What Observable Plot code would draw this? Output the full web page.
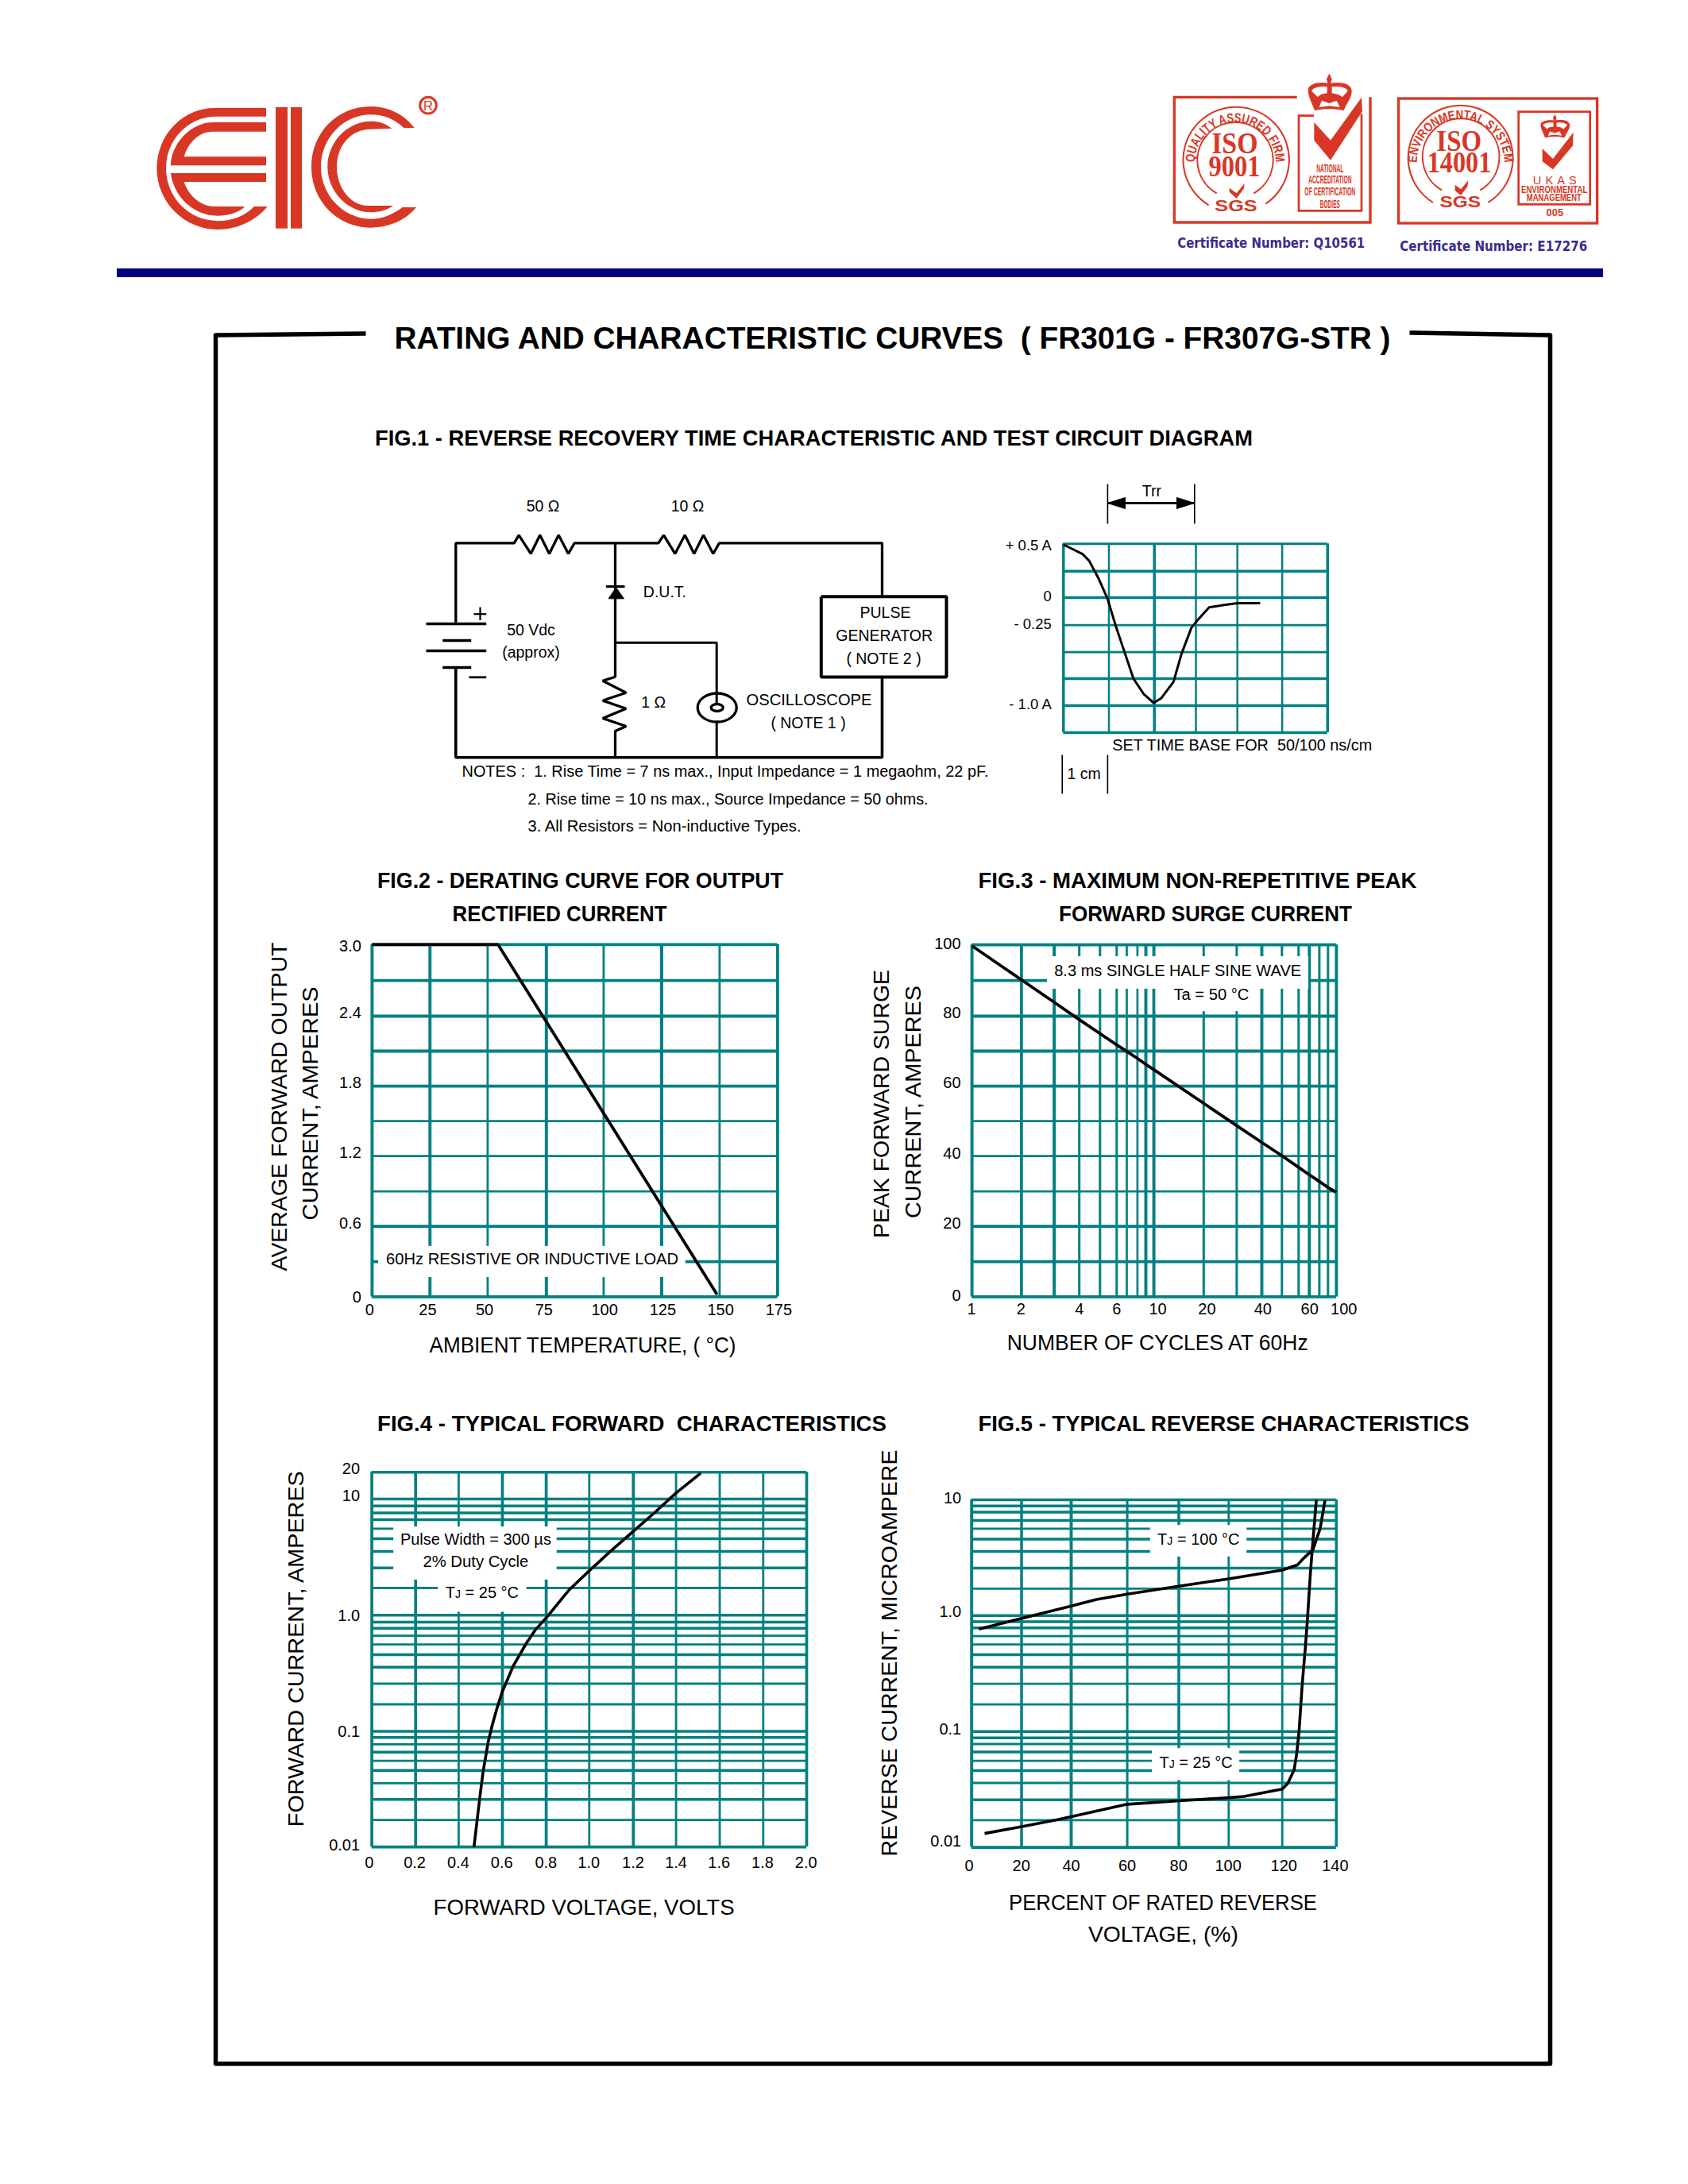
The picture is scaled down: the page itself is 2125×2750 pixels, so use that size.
<!DOCTYPE html>
<html><head><meta charset="utf-8">
<style>html,body{margin:0;padding:0;background:#fff}#page{position:relative;width:2125px;height:2750px;background:#fff;overflow:hidden}</style>
<script src="https://cdn.jsdelivr.net/npm/d3@7"></script>
<script src="https://cdn.jsdelivr.net/npm/@observablehq/plot@0.6"></script>
</head><body><div id="page"></div>
<script>
// ---------- Data ----------
// FIG.1 oscillogram
const fig1Div = [0,1,2,3,4,5,6];
const fig1Amp = [0.5,0.25,0,-0.25,-0.5,-0.75,-1,-1.25];
const fig1Time = [0,0.42,0.565,0.78,0.97,1.145,1.36,1.54,1.77,1.986,2.17,2.46,2.65,2.89,3.05,3.32,3.68,4,4.51];
const fig1Curve = [0.493,0.407,0.345,0.174,-0.01,-0.25,-0.52,-0.75,-0.895,-0.975,-0.93,-0.78,-0.52,-0.275,-0.2,-0.088,-0.066,-0.05,-0.05];
const fig1YLabels = ["+ 0.5 A","0","- 0.25","- 1.0 A"];
const fig1YAt = [0.482,0.01,-0.243,-0.987];
// FIG.2 derating
const fig2Temp = [0,25,50,75,100,125,150,175];
const fig2Amps = [0,0.3,0.6,0.9,1.2,1.5,1.8,2.1,2.4,2.7,3.0];
const fig2CurveT = [0,54.4,148.9];
const fig2CurveI = [3,3,0.02];
const fig2XLabels = ["0","25","50","75","100","125","150","175"];
const fig2XAt = [-1.1,24,48.7,74,100.4,125.5,150.4,175.5];
const fig2YLabels = ["3.0","2.4","1.8","1.2","0.6","0"];
const fig2YAt = [2.988,2.426,1.824,1.225,0.623,-0.002];
// FIG.3 surge
const fig3Cycles = [1,2,3,4,5,6,7,8,9,10,20,30,40,50,60,70,80,90,100];
const fig3Amps = [0,10,20,30,40,50,60,70,80,90,100];
const fig3Curve = [99.7,90.2,83.9,79,75,71.8,69.9,67.9,66.2,64.7,55.1,48.7,43.9,40.1,36.8,34.7,32.8,31.1,29.7];
const fig3XLabels = ["1","2","4","6","10","20","40","60","100"];
const fig3XAt = [0.99,1.99,4,6,10.8,21,40.5,70.3,108.8];
const fig3YLabels = ["100","80","60","40","20","0"];
const fig3YAt = [100.2,80.8,61,40.8,20.8,0.3];
// FIG.4 forward
const fig4Volts = [0,0.2,0.4,0.6,0.8,1.0,1.2,1.4,1.6,1.8,2.0];
const logCurrents = [0.01,0.02,0.03,0.04,0.05,0.06,0.07,0.08,0.09,0.1,0.2,0.3,0.4,0.5,0.6,0.7,0.8,0.9,1,2,3,4,5,6,7,8,9,10];
const fig4Amps = [...logCurrents,20];
const fig4CurveV = [0.47,0.482,0.498,0.512,0.523,0.535,0.552,0.574,0.599,0.649,0.708,0.75,0.804,0.859,0.909,1.0,1.094,1.203,1.295,1.399,1.513];
const fig4CurveI = [0.01,0.0183,0.0326,0.0495,0.064,0.0835,0.118,0.182,0.26,0.408,0.608,0.777,0.975,1.47,1.95,2.86,3.98,5.8,7.9,12.2,19.7];
const fig4XLabels = ["0","0.2","0.4","0.6","0.8","1.0","1.2","1.4","1.6","1.8","2.0"];
const fig4XAt = [-0.012,0.196,0.398,0.597,0.799,0.998,1.199,1.4,1.597,1.797,1.997];
const fig4YLabels = ["20","10","1.0","0.1","0.01"];
const fig4YAt = [21.3,11.3,0.99,0.0995,0.0106];
// FIG.5 reverse
const fig5Percent = [0,20,40,60,80,100,120,140];
const fig5Micro = logCurrents;
const fig5T25P = [5.2,20.1,34.5,40,60,80,100,105.7,120,122,124.4,125.4,126.2,127.4,128.6,129.4,130.4,131.4,132.6];
const fig5T25I = [0.0151,0.0176,0.0202,0.0217,0.0278,0.0295,0.0312,0.032,0.0363,0.0396,0.0507,0.0692,0.1,0.3,0.587,1,2.73,5,10];
const fig5T100P = [2.9,20.1,40,49,60,80,100,120,125.6,128,131.4,134,135.8];
const fig5T100I = [0.787,0.955,1.35,1.6,1.8,2.12,2.48,2.9,3.19,3.6,4.17,6,9.9];
const fig5XLabels = ["0","20","40","60","80","100","120","140"];
const fig5XAt = [-1,19.9,40,60,79.9,99.8,120.6,139.6];
const fig5YLabels = ["10","1.0","0.1","0.01"];
const fig5YAt = [10.2,1.13,0.108,0.0123];
// Texts
const mainTitle = "RATING AND CHARACTERISTIC CURVES  ( FR301G - FR307G-STR )";
const fig1Title = "FIG.1 - REVERSE RECOVERY TIME CHARACTERISTIC AND TEST CIRCUIT DIAGRAM";
const fig2Title = ["FIG.2 - DERATING CURVE FOR OUTPUT","RECTIFIED CURRENT"];
const fig3Title = ["FIG.3 - MAXIMUM NON-REPETITIVE PEAK","FORWARD SURGE CURRENT"];
const fig4Title = "FIG.4 - TYPICAL FORWARD  CHARACTERISTICS";
const fig5Title = "FIG.5 - TYPICAL REVERSE CHARACTERISTICS";
const notes = ["NOTES :  1. Rise Time = 7 ns max., Input Impedance = 1 megaohm, 22 pF.","2. Rise time = 10 ns max., Source Impedance = 50 ohms.","3. All Resistors = Non-inductive Types."];

// ---------- Style ----------
const F = "Liberation Sans", TEAL = "#008080", RED = "#d93725", NAVY = "#000080", CERT = "#3a2d8f";
const pageEl = document.getElementById("page");

function fit(w){ return w ? function(i,s,v,d,c,next){ const g = next(i,s,v,d,c);
  d3.select(g).selectAll("text").attr("textLength",w).attr("lengthAdjust","spacingAndGlyphs"); return g; } : undefined; }

// text with its baseline at (x, y) in page pixels
function T(str,x,y,size,o={}){
  return Plot.text([str],{x:()=>x,y:()=>y,text:d=>d,fontSize:size,fontFamily:o.family||F,fontWeight:o.weight||"normal",
    fill:o.fill||"black",textAnchor:o.anchor||"middle",lineAnchor:"bottom",rotate:o.rotate||0,render:fit(o.w)});
}
function W(points,sw=3.3,o={}){
  return Plot.line(points,{x:d=>d[0],y:d=>d[1],stroke:"black",strokeWidth:sw,strokeLinejoin:o.join||"miter",strokeLinecap:"butt",fill:o.fill||"none"});
}

const crownPath = "M640,38 L650,58 L646,74 C680,68 725,74 725,104 C725,130 705,150 695,178 C660,170 620,170 585,178 C575,150 560,125 560,100 C560,78 600,68 634,74 L630,58 Z";
const crownInner = "M574,104 C576,90 610,84 632,88 L632,112 L610,116 L596,126 Z M710,104 C708,90 674,84 650,88 L650,112 L672,116 L690,126 Z M602,165 L612,140 L640,150 L668,140 L680,165 L640,160 Z";
const logos = `
<g transform="translate(180,110) scale(0.33333)" fill="${RED}">
<path d="M465,78 L270,78 A218,228 0 0 0 52,305 A230,232 0 0 0 282,537 C360,537 430,500 470,450 L420,450 C385,485 340,505 282,505 A195,200 0 0 1 87,305 A190,195 0 0 1 270,110 L465,110 Z"/>
<path d="M465,132 L265,132 C180,132 105,215 105,295 L465,295 L465,262 L155,262 C170,210 210,167 265,167 L465,167 Z"/>
<path d="M105,324 L465,324 L465,357 L155,357 C170,405 215,450 270,450 L385,450 C360,475 320,485 280,485 C190,485 115,410 105,324 Z"/>
<rect x="501" y="75" width="45" height="458"/><rect x="558" y="75" width="42" height="458"/>
<path d="M1025,153 L985,153 C950,120 910,103 860,103 C760,103 672,190 672,300 C672,410 760,497 860,497 C905,497 945,480 980,453 L1032,453 C990,505 925,530 860,530 C735,530 636,430 636,300 C636,170 735,72 860,72 C925,72 985,100 1025,153 Z"/>
<path d="M940,155 C915,135 890,128 860,128 C775,128 697,205 697,300 C697,395 775,472 860,472 C890,472 920,465 945,447 L850,447 C785,447 732,380 732,300 C732,220 785,158 860,158 Z"/>
<circle cx="1077" cy="68" r="31" fill="none" stroke="${RED}" stroke-width="9"/>
<text x="1077" y="86" font-size="50" font-family="${F}" text-anchor="middle">R</text>
</g>
<g transform="translate(1460,80) scale(0.33333)" fill="${RED}" font-family="${F}" text-anchor="middle">
<path d="M518,127 L55,127 L55,600 L795,600 L795,127" fill="none" stroke="${RED}" stroke-width="10"/>
<path d="M582,197 L525,197 L525,556 L762,556 L762,190" fill="none" stroke="${RED}" stroke-width="8"/>
<path d="M185,535 A200,200 0 1 1 400,530" fill="none" stroke="${RED}" stroke-width="6"/>
<path d="M215,490 A143,143 0 1 1 355,490" fill="none" stroke="${RED}" stroke-width="6"/>
<path id="arcQ" d="M132,375 A153,153 0 1 1 438,375" fill="none"/>
<text font-size="50" font-weight="bold" textLength="478" lengthAdjust="spacingAndGlyphs"><textPath href="#arcQ" startOffset="50%">QUALITY ASSURED FIRM</textPath></text>
<text x="283" y="340" font-size="112" font-family="Liberation Serif" font-weight="bold" textLength="175" lengthAdjust="spacingAndGlyphs">ISO</text>
<text x="282" y="425" font-size="112" font-family="Liberation Serif" font-weight="bold" textLength="195" lengthAdjust="spacingAndGlyphs">9001</text>
<path d="M263,470 L290,490 L320,453 L318,472 L290,510 L263,485 Z"/>
<text x="288" y="557" font-size="62" font-weight="bold" textLength="160" lengthAdjust="spacingAndGlyphs">SGS</text>
<path d="${crownPath}"/><path d="${crownInner}" fill="#fff"/>
<path d="M583,222 L645,290 L762,128 L765,180 L645,365 L583,290 Z"/>
<g font-weight="bold" font-size="44">
<text x="643" y="410" textLength="103" lengthAdjust="spacingAndGlyphs">NATIONAL</text>
<text x="643" y="454" textLength="163" lengthAdjust="spacingAndGlyphs">ACCREDITATION</text>
<text x="643" y="499" textLength="192" lengthAdjust="spacingAndGlyphs">OF CERTIFICATION</text>
<text x="643" y="545" textLength="75" lengthAdjust="spacingAndGlyphs">BODIES</text></g>
</g>
<g transform="translate(1740,100) scale(0.33333)" fill="${RED}" font-family="${F}" text-anchor="middle">
<rect x="62" y="72" width="750" height="471" fill="none" stroke="${RED}" stroke-width="10"/>
<rect x="515" y="122" width="270" height="350" fill="none" stroke="${RED}" stroke-width="8"/>
<path d="M192,465 A198,198 0 1 1 400,465" fill="none" stroke="${RED}" stroke-width="6"/>
<path d="M225,418 A145,145 0 1 1 370,418" fill="none" stroke="${RED}" stroke-width="6"/>
<path id="arcE" d="M132,332 A165,165 0 1 1 460,332" fill="none"/>
<text font-size="48" font-weight="bold" textLength="520" lengthAdjust="spacingAndGlyphs"><textPath href="#arcE" startOffset="50%">ENVIRONMENTAL SYSTEM</textPath></text>
<text x="290" y="270" font-size="112" font-family="Liberation Serif" font-weight="bold" textLength="170" lengthAdjust="spacingAndGlyphs">ISO</text>
<text x="291" y="352" font-size="112" font-family="Liberation Serif" font-weight="bold" textLength="242" lengthAdjust="spacingAndGlyphs">14001</text>
<path d="M275,398 L297,415 L325,382 L322,405 L297,438 L275,420 Z"/>
<text x="295" y="484" font-size="62" font-weight="bold" textLength="155" lengthAdjust="spacingAndGlyphs">SGS</text>
<g transform="translate(225,108) scale(0.667,0.63)"><path d="${crownPath}"/><path d="${crownInner}" fill="#fff"/></g>
<path d="M605,262 L645,300 L722,200 L720,250 L645,340 L605,310 Z"/>
<text x="652" y="395" font-size="44" textLength="165" lengthAdjust="spacing">UKAS</text>
<g font-weight="bold" font-size="36">
<text x="650" y="428" textLength="250" lengthAdjust="spacingAndGlyphs">ENVIRONMENTAL</text>
<text x="649" y="458" textLength="207" lengthAdjust="spacingAndGlyphs">MANAGEMENT</text></g>
<text x="652" y="515" font-size="36" font-weight="bold" textLength="65" lengthAdjust="spacingAndGlyphs">005</text>
</g>
<ellipse cx="902.7" cy="891" rx="24.5" ry="18" fill="none" stroke="black" stroke-width="3.3"/>
<ellipse cx="902.7" cy="891" rx="7.5" ry="4.5" fill="none" stroke="black" stroke-width="3.3"/>`;

// ---------- Page layer: logos, rule, frame, circuit, titles ----------
const pagePlot = Plot.plot({
  width:2125,height:2750,margin:0,
  x:{domain:[0,2125],range:[0,2125],axis:null},y:{domain:[0,2750],range:[0,2750],axis:null},
  style:{background:"transparent"},
  marks:[
    () => { const g = d3.create("svg:g"); g.html(logos); return g.node(); },
    Plot.rect([0],{x1:()=>147,x2:()=>2018,y1:()=>338,y2:()=>349,fill:NAVY}),
    W([[460,419.5],[271,421.5],[271,2598],[1951,2598],[1951,421.5],[1774,418.5]],5.5,{join:"round"}),
    // circuit wires
    W([[573.3,783.3],[573.3,683.3],[646.7,683.3],[652.7,673.3],[667.7,696.7],[679.3,673.3],[691,696.7],[702.7,673.3],[715,696.7],[722.7,683.3],[828.3,683.3],[835,673.3],[849.3,696.7],[861.7,673.3],[873.3,696.7],[885,673.3],[897.3,696.7],[905,683.3],[1110,683.3],[1110,750]]),
    W([[774,683.3],[774,851.7],[758.3,856.7],[787.7,871.7],[758.3,881.7],[787.7,891.7],[758.3,904],[787.7,914],[774,920],[774,953.3]]),
    W([[774,808.7],[901.7,808.7],[901.7,887]],3),
    W([[901.7,909],[901.7,953.3]],3),
    W([[573.3,840],[573.3,953.3],[1110,953.3],[1110,852]],3.6),
    W([[1033.3,750.7],[1191,750.7],[1191,852],[1033.3,852],[1033.3,750.7]],4),
    W([[762.3,738],[786,738]],3),
    W([[775,739.3],[765.7,753.3],[785,753.3],[775,739.3]],1,{fill:"black"}),
    W([[536,785],[611.7,785]]),W([[556.7,806],[592.7,806]]),W([[536,819],[611.7,819]]),W([[556.7,840],[592.7,840]]),
    W([[596,772.7],[611.7,772.7]],2.2),W([[604,764],[604,780.5]],2.2),W([[590,852.3],[611.7,852.3]],2.8),
    // Trr and 1 cm brackets
    W([[1393.9,609],[1393.9,659]],1.6),W([[1503.3,609],[1503.3,659]],1.6),W([[1394,633],[1503,633]],3),
    W([[1394,633],[1416,626],[1416,640],[1394,633]],1,{fill:"black"}),W([[1503,633],[1481,626],[1481,640],[1503,633]],1,{fill:"black"}),
    W([[1336.7,950],[1336.7,999]],1.6),W([[1393.9,950],[1393.9,999]],1.6),
    // titles
    T(mainTitle,1123,438,39,{weight:"bold",w:1254}),
    T(fig1Title,1024,560.5,28.5,{weight:"bold",w:1105}),
    T(fig2Title[0],730,1117.5,28.5,{weight:"bold",w:511}),T(fig2Title[1],704,1159,28.5,{weight:"bold",w:270}),
    T(fig3Title[0],1507,1117.5,28.5,{weight:"bold",w:552}),T(fig3Title[1],1517,1159,28.5,{weight:"bold",w:369}),
    T(fig4Title,795,1801.5,28.5,{weight:"bold",w:641}),T(fig5Title,1540,1801.5,28.5,{weight:"bold",w:618}),
    // circuit texts
    T("50 Ω",683,643,19.5),T("10 Ω",865,643,19.5),T("D.U.T.",809.3,751.7,19.5,{anchor:"start"}),
    T("50 Vdc",668,799,19.5),T("(approx)",668,827,19.5),T("1 Ω",806.7,890.7,19.5,{anchor:"start"}),
    T("PULSE",1114,777.3,19.5),T("GENERATOR",1112.7,806.7,19.5),T("( NOTE 2 )",1112,835,19.5),
    T("OSCILLOSCOPE",1097,887.3,19.5,{anchor:"end",w:158}),T("( NOTE 1 )",1017,916,19.5),
    T(notes[0],581,977.7,19.5,{anchor:"start",w:663}),T(notes[1],664,1012,19.5,{anchor:"start",w:504}),T(notes[2],664,1046,19.5,{anchor:"start",w:344}),
    T("Trr",1449.4,624,19.5),T("SET TIME BASE FOR  50/100 ns/cm",1399.7,944.3,19.5,{anchor:"start",w:327}),T("1 cm",1364,980,19.5),
    // axis titles
    T("AVERAGE FORWARD OUTPUT",360.4,1393,27.5,{rotate:-90,w:414}),T("CURRENT, AMPERES",399,1389,27.5,{rotate:-90,w:294}),
    T("AMBIENT TEMPERATURE, ( °C)",733,1702.6,27.5,{w:386}),
    T("PEAK FORWARD SURGE",1118,1389.5,27.5,{rotate:-90,w:338}),T("CURRENT, AMPERES",1158,1387,27.5,{rotate:-90,w:293}),
    T("NUMBER OF CYCLES AT 60Hz",1456.7,1699.4,27.5,{w:379}),
    T("FORWARD CURRENT, AMPERES",381.3,2075.7,27.5,{rotate:-90,w:448}),T("FORWARD VOLTAGE, VOLTS",734.6,2410.5,27.5,{w:379}),
    T("REVERSE CURRENT, MICROAMPERE",1128,2081,27.5,{rotate:-90,w:512}),
    T("PERCENT OF RATED REVERSE",1463.5,2404.5,27.5,{w:388}),T("VOLTAGE, (%)",1463.9,2444,27.5,{w:189}),
    // certificates
    T("Certificate Number: Q10561",1481.7,311.7,17,{anchor:"start",family:"DejaVu Sans",fill:CERT,weight:"bold",w:236}),
    T("Certificate Number: E17276",1761.7,315,17,{anchor:"start",family:"DejaVu Sans",fill:CERT,weight:"bold",w:236})
  ]
});
pagePlot.style.position="absolute";pagePlot.style.left="0";pagePlot.style.top="0";
pageEl.appendChild(pagePlot);

// ---------- Chart helper ----------
function chart({box,xDomain,xRange,yDomain,yRange,xW,yW,masks=[],notesM=[],curves,xL,xAt,xDy,yL,yAt,yDx,xAtY,size=20}){
  const [L,Tp,R,B] = box; // page rectangle of the svg
  const xr = xRange.map(v=>v-L), yr = yRange.map(v=>v-Tp);
  const svg = Plot.plot({
    width:R-L,height:B-Tp,
    marginLeft:Math.min(...xr),marginRight:R-L-Math.max(...xr),marginTop:Math.min(...yr),marginBottom:B-Tp-Math.max(...yr),
    x:{type:"linear",domain:xDomain,range:xr,axis:null},y:{type:"linear",domain:yDomain,range:yr,axis:null},
    style:{background:"transparent"},
    marks:[
      Plot.ruleY(yDomain,{y:d=>d,stroke:TEAL,strokeWidth:(d,i)=>yW[i]+0.5,strokeOpacity:1}),
      Plot.ruleX(xDomain,{x:d=>d,stroke:TEAL,strokeWidth:(d,i)=>xW[i]+0.5,strokeOpacity:1}),
      ...masks.map(m=>Plot.rect([m],{x1:d=>d[0],x2:d=>d[1],y1:d=>d[2],y2:d=>d[3],fill:"white"})),
      ...notesM.map(n=>Plot.text([n.text],{x:()=>n.x,y:()=>n.y,text:d=>d,fontFamily:F,fontSize:20,fill:"black",render:fit(n.w)})),
      ...curves.map(c=>Plot.line(d3.zip(c[0],c[1]),{x:d=>d[0],y:d=>d[1],stroke:"black",strokeWidth:c[2]||3.6,strokeLinejoin:"round",strokeLinecap:"butt"})),
      Plot.text(xL,{x:(d,i)=>xAt[i],y:(d,i)=>xAtY?xAtY[i]:yDomain[0],text:d=>d,dy:xDy,fontFamily:F,fontSize:size,fill:"black"}),
      Plot.text(yL,{y:(d,i)=>yAt[i],x:()=>xDomain[0],text:d=>d,dx:yDx,textAnchor:"end",fontFamily:F,fontSize:size,fill:"black"})
    ]
  });
  // small subscript J in the TJ notes
  d3.select(svg).selectAll("text").each(function(){
    const s=this.textContent; if(s.startsWith("TJ")){ const sel=d3.select(this); sel.text("T");
      sel.append("tspan").attr("font-size","14").text("J"); sel.append("tspan").text(s.slice(2)); }
  });
  svg.style.position="absolute";svg.style.left=L+"px";svg.style.top=Tp+"px";
  pageEl.appendChild(svg);
}

// FIG.1 oscillogram
chart({box:[1240,660,1700,940],
  xDomain:fig1Div,xRange:[1338.3,1395.5,1452.7,1505,1557.2,1613.6,1670.8],
  yDomain:fig1Amp,yRange:[684.3,718.7,752,786.7,820.7,854,888,922],
  xW:[3,2,3,2,2,2,3],yW:[2.6,3,3,2.2,2.2,3,3,3],
  curves:[[fig1Time,fig1Curve,3]],
  xL:[],xAt:[],xDy:0,yL:fig1YLabels,yAt:fig1YAt,yDx:-15,size:18.5,
});
// FIG.2
chart({box:[400,1170,1010,1680],
  xDomain:fig2Temp,xRange:[467.9,540.8,613.4,687.3,759.4,832.4,905.4,978.4],
  yDomain:fig2Amps,yRange:[1632.4,1588.1,1543.6,1499.6,1455.2,1411.2,1367.1,1323,1279,1234.2,1188.8],
  xW:[3.4,3.4,2.3,3.4,2.3,3.6,2.3,3.4],yW:[3.4,3.4,3.4,2.3,2.3,2.3,3.4,3.3,3.3,3.3,3.3],
  masks:[[2.8,135.4,0.43,0.165]],
  notesM:[{text:"60Hz RESISTIVE OR INDUCTIVE LOAD",x:69,y:0.32,w:368}],
  curves:[[fig2CurveT,fig2CurveI,3.8]],
  xL:fig2XLabels,xAt:fig2XAt,xDy:17,yL:fig2YLabels,yAt:fig2YAt,yDx:-13.5
});
// FIG.3
chart({box:[1170,1170,1720,1680],
  xDomain:fig3Cycles,xRange:[1223.1,1285.4,1326.6,1358.2,1384.3,1405.3,1418,1431.4,1442,1452.1,1514.8,1556.4,1588,1613.3,1634.3,1647.8,1660.4,1671.3,1681.9],
  yDomain:fig3Amps,yRange:[1632.4,1588.1,1543.6,1499.6,1455.2,1411.2,1367.1,1323,1279,1234.2,1189.2],
  xW:[3.4,3.2,3.4,2.5,2.5,2.5,2.2,2.2,3.4,3.4,2.5,2.5,3.4,2.5,2.5,3.4,2.5,2.5,3.4],yW:[3.4,3.4,3.4,2.3,2.3,2.3,3.4,3.3,3.3,3.3,3.3],
  masks:[[2.79,69.4,96.7,87.6],[10.4,39,87.6,81.3]],
  notesM:[{text:"8.3 ms SINGLE HALF SINE WAVE",x:14.8,y:92.8,w:311},{text:"Ta = 50 °C",x:22.3,y:85.9,w:95}],
  curves:[[fig3Cycles,fig3Curve,3.8]],
  xL:fig3XLabels,xAt:fig3XAt,xDy:16,yL:fig3YLabels,yAt:fig3YAt,yDx:-14
});
// FIG.4
chart({box:[400,1830,1040,2380],
  xDomain:fig4Volts,xRange:[467.6,522.7,576.9,632,687.1,741.3,796.8,850.6,905.6,960.3,1015],
  yDomain:fig4Amps,yRange:[2325.1,2291.2,2265.2,2244.8,2228.8,2216.7,2205.8,2195.8,2187.2,2179.4,2145.5,2119.5,2098.7,2083.1,2070.1,2059.2,2049.7,2041.9,2033.2,1999,1973.8,1953,1937,1924.4,1913.1,1904.4,1895.8,1887.1,1853.3],
  xW:[3.2,3.2,2.3,3.2,3.2,2.3,3.2,2.3,2.3,2.3,3.2],
  yW:[3.2,2.3,3,2.3,3,2.3,3,2.3,3,3,2.3,2.3,3,3,2.3,2.3,3,3,3,2.3,3,3,3,2.3,3,3,3,3,3],
  masks:[[0.1,0.85,6.2,2.4],[0.305,0.711,2.4,1.11]],
  notesM:[{text:"Pulse Width = 300 µs",x:0.478,y:4.92,w:190},{text:"2% Duty Cycle",x:0.478,y:3.35,w:133},{text:"TJ = 25 °C",x:0.507,y:1.81}],
  curves:[[fig4CurveV,fig4CurveI,3.6]],
  xL:fig4XLabels,xAt:fig4XAt,xDy:20,yL:fig4YLabels,yAt:fig4YAt,yDx:-15
});
// FIG.5
chart({box:[1170,1870,1720,2380],
  xDomain:fig5Percent,xRange:[1222.7,1285.5,1348,1418.6,1483.5,1546.3,1613.7,1681.8],
  yDomain:fig5Micro,yRange:[2325.6,2291.3,2265.7,2244.5,2228.9,2216.7,2205.4,2195.5,2187.7,2179.8,2145.6,2119.6,2098.8,2083.1,2070.1,2059.7,2049.3,2041.5,2033.7,1999.9,1973.9,1953,1937.4,1924.4,1914,1903.6,1895.8,1888],
  xW:[3.4,3,3.4,2.5,3,2.3,2.3,3],
  yW:[3.2,2.3,3,2.3,3,2.3,3,2.3,3,3,2.3,2.3,3,3,2.3,2.3,3,3,3,2.3,3,3,3,2.3,3,3,3,3],
  masks:[[69,106.8,6.4,3.67],[69.7,104.1,0.0743,0.042]],
  notesM:[{text:"TJ = 100 °C",x:87.9,y:4.95},{text:"TJ = 25 °C",x:86.9,y:0.0579}],
  curves:[[fig5T25P,fig5T25I,3.6],[fig5T100P,fig5T100I,3.6]],
  xL:fig5XLabels,xAt:fig5XAt,xDy:23.5,yL:fig5YLabels,yAt:fig5YAt,yDx:-13
});
</script></body></html>
